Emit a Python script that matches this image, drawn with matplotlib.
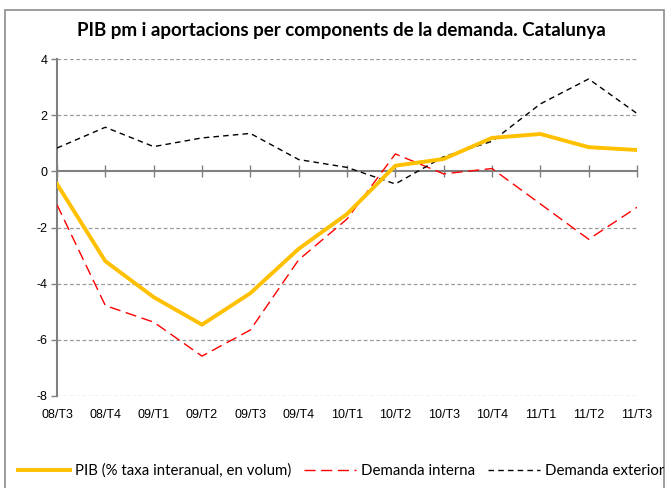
import matplotlib
matplotlib.use('Agg')  # no GUI window
import matplotlib.pyplot as plt
from matplotlib.patches import Rectangle

# quarters and series
quarters = ['08/T3', '08/T4', '09/T1', '09/T2', '09/T3', '09/T4', '10/T1',
            '10/T2', '10/T3', '10/T4', '11/T1', '11/T2', '11/T3']
pib = [-0.45, -3.2, -4.48, -5.46, -4.34, -2.76, -1.52,
       0.2, 0.44, 1.19, 1.33, 0.86, 0.76]
demanda_interna = [-1.19, -4.78, -5.37, -6.58, -5.65, -3.15, -1.7,
                   0.62, -0.09, 0.1, -1.16, -2.42, -1.28]
demanda_exterior = [0.83, 1.57, 0.88, 1.19, 1.35, 0.42, 0.14,
                    -0.45, 0.52, 1.07, 2.4, 3.29, 2.06]
yticks = [-8, -6, -4, -2, 0, 2, 4]

title = 'PIB pm i aportacions per components de la demanda. Catalunya'
labels = ['PIB (% taxa interanual, en volum)', 'Demanda interna', 'Demanda exterior']

fig = plt.figure(figsize=(6.66, 4.88), dpi=100)
fig.patches.append(Rectangle((5 / 666, -0.1), 659 / 666, 1.08, transform=fig.transFigure,
                             fill=False, edgecolor='#8c8c8c', linewidth=1.2))

ax = fig.add_axes([57 / 666, 92 / 488, 580 / 666, 337 / 488])
x = list(range(len(quarters)))

l1, = ax.plot(x, pib, color='#FFC000', linewidth=2.8, zorder=4)
l2, = ax.plot(x, demanda_interna, color='#FF0000', linewidth=1.0,
              dashes=(8, 4), zorder=3)
l3, = ax.plot(x, demanda_exterior, color='black', linewidth=1.0,
              dashes=(4, 3), zorder=3)

ax.set_xlim(0, len(quarters) - 1)
ax.set_ylim(-8, 4)
ax.set_yticks(yticks)
ax.set_yticklabels([str(v) for v in yticks], fontsize=9, family='Liberation Sans')
for v in yticks:
    if v != 0:
        ax.axhline(v, color='#9a9a9a', linewidth=0.9, dashes=(3, 2), zorder=1)

# axis at zero with crossing ticks
for s in ['top', 'right']:
    ax.spines[s].set_visible(False)
ax.spines['bottom'].set_position(('data', 0))
ax.spines['bottom'].set_color('#808080')
ax.spines['bottom'].set_linewidth(1.5)
ax.spines['left'].set_color('#808080')
ax.spines['left'].set_linewidth(1.5)
ax.set_xticks(x)
ax.tick_params(axis='x', direction='inout', length=9, width=1, color='#808080',
               labelbottom=False)
ax.tick_params(axis='y', direction='out', length=4, width=1, color='#808080', pad=3)

sec = ax.secondary_xaxis(0)
sec.set_xticks(x)
sec.set_xticklabels(quarters, fontsize=9, family='Liberation Sans')
sec.tick_params(length=0, pad=9)
sec.spines['bottom'].set_visible(False)

fig.text(0.513, 0.937, title, ha='center', va='center', fontsize=13.5,
         fontweight='bold', family='Lato')

fig.legend([l1, l2, l3], labels, loc='center left', bbox_to_anchor=(18 / 666, 17 / 488),
           ncol=3, frameon=False, prop={'family': 'Lato', 'size': 10.8},
           handlelength=3.45, columnspacing=0.87, handletextpad=0.35,
           borderaxespad=0, borderpad=0)

fig.savefig('out.png', dpi=100)
